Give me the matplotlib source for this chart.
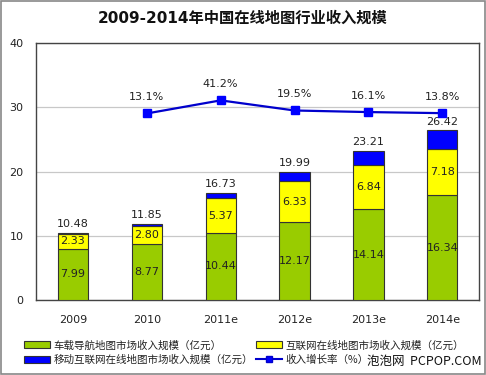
import matplotlib
matplotlib.use("Agg")
import matplotlib.pyplot as plt
from matplotlib.patches import Patch, Rectangle
from matplotlib.lines import Line2D
import numpy as np

plt.rcParams['font.family'] = ['DejaVu Sans', 'Noto Sans CJK SC']

categories = ['2009', '2010', '2011e', '2012e', '2013e', '2014e']
car_nav = [7.99, 8.77, 10.44, 12.17, 14.14, 16.34]
internet = [2.33, 2.80, 5.37, 6.33, 6.84, 7.18]
mobile = [0.16, 0.28, 0.92, 1.49, 2.23, 2.90]
totals = [10.48, 11.85, 16.73, 19.99, 23.21, 26.42]
growth_cats = ['2010', '2011e', '2012e', '2013e', '2014e']
growth = [13.1, 41.2, 19.5, 16.1, 13.8]

green = '#99CC00'
yellow = '#FFFF00'
blue = '#0000FF'
linec = '#0000CC'

fig = plt.figure(figsize=(4.86, 3.75), dpi=100)
fig.patches.append(Rectangle((0.002, 0.002), 0.996, 0.996, transform=fig.transFigure,
                             fill=False, edgecolor='#888888', lw=1.2))
ax = fig.add_axes([0.074, 0.2, 0.912, 0.685])
x = np.arange(len(categories))
w = 0.41
ec = '#333333'
ax.bar(x, car_nav, w, color=green, edgecolor=ec, lw=0.8, zorder=3)
ax.bar(x, internet, w, bottom=car_nav, color=yellow, edgecolor=ec, lw=0.8, zorder=3)
b2 = np.array(car_nav) + np.array(internet)
ax.bar(x, mobile, w, bottom=b2, color=blue, edgecolor=ec, lw=0.8, zorder=3)

fs = 8
for i in range(len(x)):
    ax.text(x[i], car_nav[i] / 2, f'{car_nav[i]:.2f}', ha='center', va='center', fontsize=fs, color='#222222', zorder=5)
    ax.text(x[i], car_nav[i] + internet[i] / 2, f'{internet[i]:.2f}', ha='center', va='center', fontsize=fs, color='#222222', zorder=5)
    ax.annotate(f'{totals[i]:.2f}', (x[i], car_nav[i] + internet[i] + mobile[i]), xytext=(0, 2.5),
                textcoords='offset points', ha='center', va='bottom', fontsize=fs, color='#222222')

ax.set_ylim(0, 40)
ax.set_xlim(-0.5, len(categories) - 0.5)
ax.set_yticks([0, 10, 20, 30, 40])
ax.set_xticks(x)
ax.set_xticklabels(categories, fontsize=fs, color='#222222')
ax.tick_params(axis='y', length=0, pad=9, labelsize=fs, labelcolor='#222222')
ax.tick_params(axis='x', length=0, pad=11)
ax.grid(axis='y', color='#C8C8C8', lw=0.9, zorder=0)
for s in ax.spines.values():
    s.set_color('#444444')
    s.set_linewidth(1.0)

ax2 = ax.twinx()
ax2.set_ylim(-387, 164)
gx = [categories.index(c) for c in growth_cats]
ax2.plot(gx, growth, color=linec, lw=1.6, marker='s', markersize=6, markerfacecolor=blue, markeredgecolor=blue, zorder=6)
for xi, g in zip(gx, growth):
    ax2.annotate(f'{g:.1f}%', (xi, g), xytext=(0, 8), textcoords='offset points', ha='center', va='bottom',
                 fontsize=fs, color='#222222')
ax2.set_yticks([])
for s in ax2.spines.values():
    s.set_visible(False)

fig.text(0.5, 0.952, '2009-2014年中国在线地图行业收入规模', ha='center', va='center', fontsize=11,
         fontweight='bold', family=['DejaVu Sans', 'Noto Sans CJK SC'], color='#111111')

handles = [Patch(facecolor=green, edgecolor=ec, lw=0.8),
           Patch(facecolor=blue, edgecolor=ec, lw=0.8),
           Patch(facecolor=yellow, edgecolor=ec, lw=0.8),
           Line2D([], [], color=linec, lw=1.5, marker='s', markersize=5, markerfacecolor=blue)]
labels = ['车载导航地图市场收入规模（亿元）', '移动互联网在线地图市场收入规模（亿元）',
          '互联网在线地图市场收入规模（亿元）', '收入增长率（%）']
leg = fig.legend(handles, labels, ncol=2, loc='upper left', bbox_to_anchor=(0.038, 0.107),
                 frameon=False, prop={'family': ['Noto Sans CJK SC'], 'size': 7.6},
                 handlelength=2.5, handleheight=0.6, columnspacing=0.3, labelspacing=0.4,
                 handletextpad=0.3, borderpad=0)
for t in leg.get_texts():
    t.set_color('#222222')

fig.text(0.99, 0.035, '泡泡网  PCPOP.COM', ha='right', va='center', fontsize=9,
         family=['Noto Sans CJK SC'], color='#111111')

fig.savefig('out.png', dpi=100)
